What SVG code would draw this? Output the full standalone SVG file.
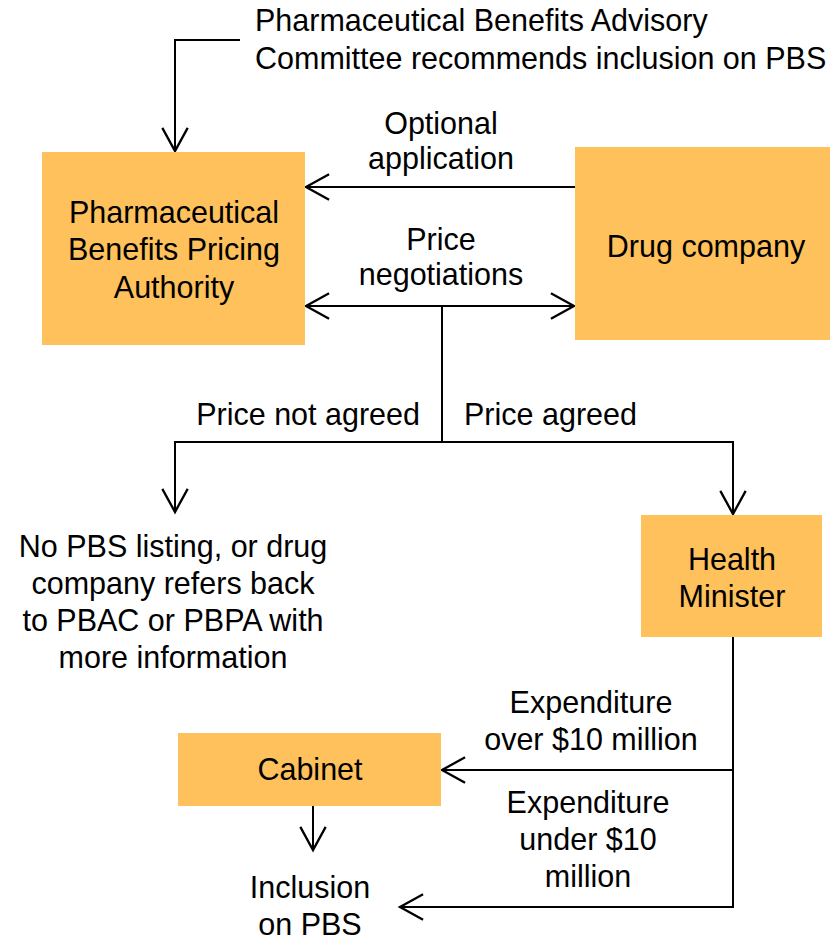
<svg xmlns="http://www.w3.org/2000/svg" width="830" height="941" viewBox="0 0 830 941">
<style>
.box{fill:#FEC15B;stroke:none}
text{font-family:"Liberation Sans",Arial,sans-serif;font-size:30.5px;fill:#000}
.c{text-anchor:middle}
.ln{fill:none;stroke:#000;stroke-width:2}
</style>
<defs>
<marker id="ah" markerUnits="userSpaceOnUse" markerWidth="30" markerHeight="30" refX="0" refY="0" viewBox="-22 -13 24 26" orient="auto-start-reverse" overflow="visible">
<path d="M-20,-11 L0,0 L-20,11" fill="none" stroke="#000" stroke-width="2"/>
</marker>
</defs>
<rect width="830" height="941" fill="#fff"/>
<g id="connectors">
<path class="ln" d="M240,40 H175 V151" marker-end="url(#ah)"/>
<path class="ln" d="M575,187 H306" marker-end="url(#ah)"/>
<path class="ln" d="M306,306 H574" marker-start="url(#ah)" marker-end="url(#ah)"/>
<path class="ln" d="M442,306 V442"/>
<path class="ln" d="M442,442 H175 V512" marker-end="url(#ah)"/>
<path class="ln" d="M442,442 H733 V514" marker-end="url(#ah)"/>
<path class="ln" d="M733,637 V770 H442" marker-end="url(#ah)"/>
<path class="ln" d="M733,770 V907 H400" marker-end="url(#ah)"/>
<path class="ln" d="M313,806 V850" marker-end="url(#ah)"/>
</g>
<g id="pbac">
<text x="255" y="31">Pharmaceutical Benefits Advisory</text>
<text x="255" y="69">Committee recommends inclusion on PBS</text>
</g>
<g id="pbpa">
<rect class="box" x="42" y="152" width="263" height="193"/>
<text class="c" x="174" y="223">Pharmaceutical</text>
<text class="c" x="174" y="260">Benefits Pricing</text>
<text class="c" x="174" y="298">Authority</text>
</g>
<g id="drug">
<rect class="box" x="575" y="147" width="255" height="193"/>
<text class="c" x="706" y="257">Drug company</text>
</g>
<g id="labels">
<text class="c" x="441" y="134">Optional</text>
<text class="c" x="441" y="169">application</text>
<text class="c" x="441" y="250">Price</text>
<text class="c" x="441" y="285">negotiations</text>
<text x="420" y="425" text-anchor="end">Price not agreed</text>
<text x="464" y="425">Price agreed</text>
<text class="c" x="591" y="713">Expenditure</text>
<text class="c" x="591" y="750">over $10 million</text>
<text class="c" x="588" y="813">Expenditure</text>
<text class="c" x="588" y="850">under $10</text>
<text class="c" x="588" y="887">million</text>
</g>
<g id="nolisting">
<text class="c" x="173" y="557">No PBS listing, or drug</text>
<text class="c" x="173" y="594">company refers back</text>
<text class="c" x="173" y="631">to PBAC or PBPA with</text>
<text class="c" x="173" y="668">more information</text>
</g>
<g id="minister">
<rect class="box" x="641" y="515" width="181" height="122"/>
<text class="c" x="732" y="570">Health</text>
<text class="c" x="732" y="607">Minister</text>
</g>
<g id="cabinet">
<rect class="box" x="178" y="733" width="263" height="73"/>
<text class="c" x="310" y="780">Cabinet</text>
</g>
<g id="inclusion">
<text class="c" x="310" y="898">Inclusion</text>
<text class="c" x="310" y="935">on PBS</text>
</g>
</svg>
